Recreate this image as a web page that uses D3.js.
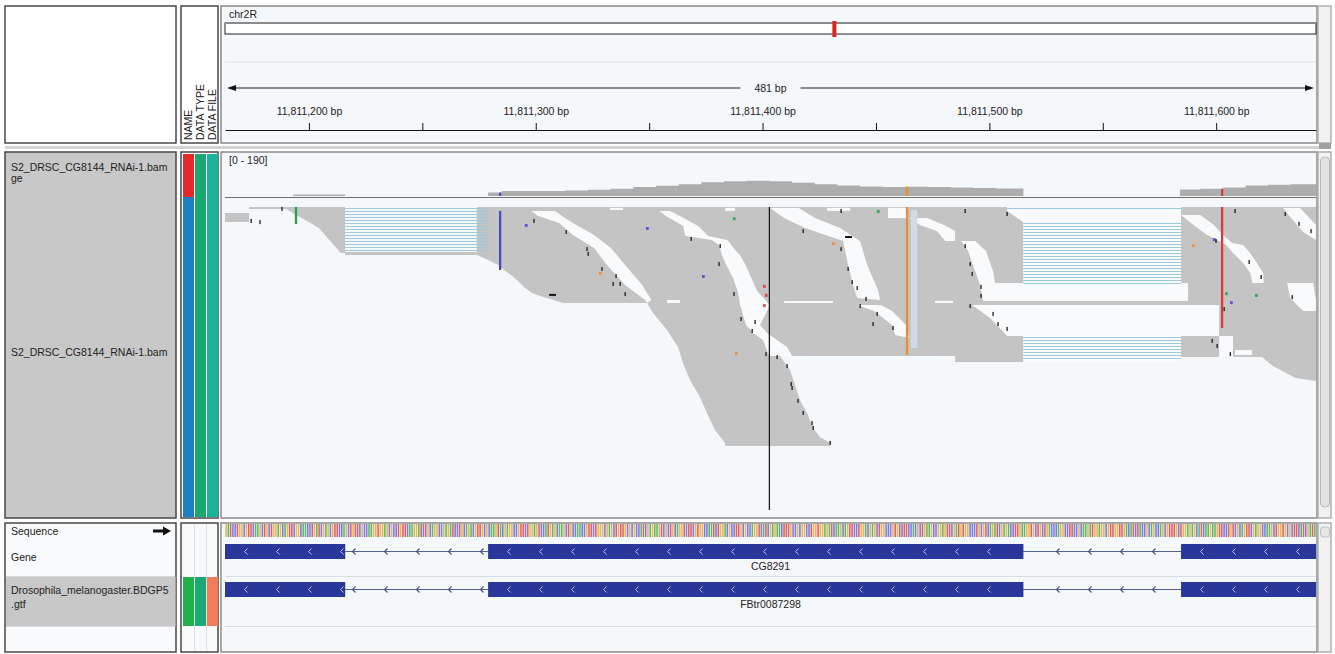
<!DOCTYPE html>
<html>
<head>
<meta charset="utf-8">
<script src="https://cdn.jsdelivr.net/npm/d3@7"></script>
<style>
body { margin: 0; background: #ffffff; }
text { font-family: "Liberation Sans", Arial, sans-serif; fill: #222; }
</style>
</head>
<body>
<script>
// ---- data ----
var chromName = "chr2R";
var chromLength = 21146708;
var regionStart = 11811163;
var regionEnd = 11811644;
var centerBp = 11811403;
var majorTicks = [11811200, 11811300, 11811400, 11811500, 11811600];
var minorTicks = [11811250, 11811350, 11811450, 11811550];

var covRange = [0, 190];
// coverage steps: offset from regionStart (bp) -> depth
var covPos = [0, 30, 53, 116, 122, 140, 150, 160, 170, 180, 190, 200, 210, 220, 230, 240, 250, 260, 270, 280, 290, 300, 310, 320, 330, 340, 352, 421, 430, 440, 450, 460, 470, 481];
var covDepth = [0, 8, 0, 18, 26, 27, 29, 33, 38, 48, 54, 62, 72, 78, 80, 78, 70, 62, 55, 50, 48, 49, 47, 45, 42, 40, 0, 34, 38, 45, 55, 60, 62, 62];

// read pile-up outlines, points are [bp offset, row]
var massOutline = [[111,0],[481,0],[481,58],[472,57],[462,53],[457.2,50],[421.5,50],[421.5,51.7],[321.9,51.7],[321.9,49.7],[244.7,49.7],[249.1,54.3],[251.3,59.3],[253.5,64.3],[256.6,68.7],[259.3,73.7],[262.3,76.7],[266.8,78.7],[266.8,79.7],[220.5,79.7],[220.5,78.7],[216,74.3],[212.5,68.7],[209.4,63.3],[205,57.7],[201.9,52],[199.7,46.7],[194.9,41],[188.7,35.3],[186.1,32],[149,32],[138.9,29.7],[135.4,28.7],[132.3,27],[129.2,24.7],[126.1,22.7],[123,21],[120.4,19.3],[116,17.7],[112,16.3],[111,16]];
var leftReads = [
  [[0,2],[10.6,2],[10.6,5],[0,5]],
  [[10.6,0],[26.9,0],[26.9,0.7],[10.6,0.7]],
  [[26.9,0],[52.9,0],[52.9,15.3],[51,15.3],[41.4,7],[30,2],[26.9,0.7]],
  [[52.9,15],[111,15],[111,16],[52.9,16]]
];
// empty areas inside the pile-up (junction gaps, packing gaps)
var emptyAreas = [
  [[344.8,0],[421.5,0],[421.5,26],[351.9,26],[351.9,5],[347.4,2.7],[344.8,1.3]],
  [[324.5,11.3],[330.7,11.3],[335.5,14.7],[338.6,21.3],[339.5,25.3],[424.6,25.3],[424.6,31.3],[334.2,31.3],[332.9,26],[330.7,21.3],[327.6,14.7]],
  [[329.4,32.7],[438.3,32.7],[438.3,43],[344.8,43],[337.3,37]],
  [[351.9,43],[421.5,43],[421.5,51.7],[351.9,51.7]],
  [[438.3,43],[444.4,43],[444.4,50],[438.3,50]],
  [[134.9,1.3],[138,3],[147.3,5.3],[153.4,9.3],[162.7,13.7],[168.4,19.3],[176.4,26],[185.2,31],[186.1,32],[188,31],[183.9,26],[176.4,19.3],[170.2,13.7],[162.7,9.3],[153.4,5.3],[148.6,3],[145.5,1.3]],
  [[191.4,1.3],[194.4,3],[202,6.3],[203,9.7],[214.7,11],[217.8,12.7],[219.1,16],[221,19.3],[224,23.7],[226,28],[227.1,32.7],[229.7,39.3],[232.8,42],[237.2,44.3],[239.9,49.7],[250,49.7],[247.8,46.7],[239,42],[235.9,39.3],[240.3,32.7],[234.6,28],[229.5,19.3],[227,16],[225.3,14.7],[221.5,11],[213,9.7],[208.6,6.3],[200.6,3],[196.2,1.3]],
  [[240.3,0.3],[246.5,3.7],[255.7,7],[272.5,11.3],[274.7,19.3],[276.9,26],[278.7,30.3],[288.8,31],[287.9,27.7],[283.1,19.3],[280,11.3],[271.2,7],[260.1,3.7],[253,0.3]],
  [[278.7,32.7],[286.2,34.7],[294.1,39.3],[295.4,42.7],[301.6,43.7],[300.3,39.3],[294.1,34.7],[289.2,32.7]],
  [[301.6,3.7],[306.4,6],[313.9,8],[317.5,11.3],[321.9,11.3],[321.9,8],[317,6],[309.5,3.7]],
  [[292.3,0.3],[300.3,0.3],[300.3,3.7],[292.3,3.7]],
  [[421.5,2.7],[427,6],[433,9.3],[440,12],[441.4,12.7],[444.4,15.3],[448.9,18.7],[452,22],[453,25.3],[458,25.3],[457.7,22],[455,18.7],[451.9,15.3],[448.9,12.7],[444,12],[440,9.3],[436,6],[430,2.7]],
  [[466.5,0.3],[474,0.3],[481,6],[481,11],[475.3,8.3],[469.6,3.3]],
  [[468.3,25.3],[479.7,25.3],[481,31],[481,34.7],[475.3,34.7],[469.6,30.3]],
  [[445.3,47.7],[452.8,47.7],[452.8,49.3],[445.3,49.3]],
  [[220.5,0.3],[224.9,0.3],[224.9,1.3],[220.5,1.3]],
  [[265.4,0.3],[275.6,0.3],[275.6,1.3],[265.4,1.3]],
  [[169.8,0.3],[175.5,0.3],[175.5,1],[169.8,1]],
  [[246.5,31.3],[268,31.3],[268,32],[246.5,32]],
  [[313,31.3],[321,31.3],[321,32],[313,32]],
  [[194.9,31],[200.6,31],[200.6,32],[194.9,32]]
];
// spliced reads: [from offset, to offset, first row, last row]
var junctions = [[52.9, 116, 0, 14], [344.8, 421.5, 0, 0], [351.9, 421.5, 5, 25], [351.9, 421.5, 43, 50]];
// mismatch columns: [offset, first row, last row, base]
var mismatchColumns = [[31.3, 0, 5.7, "A"], [121.3, 1.3, 21, "C"], [300.7, 0, 49.3, "G"], [439.6, 0, 40.3, "T"]];
var mismatches = [[224.4,3.7,"A"],[287.9,1.3,"A"],[132.7,6,"C"],[186.1,7,"C"],[210.8,23,"C"],[165.3,22,"G"],[268.1,12,"G"],[225.3,48.7,"G"],[237.7,26.3,"T"],[238.5,29.3,"T"],[237.7,32.7,"T"],[441.4,28.7,"A"],[443.6,31.7,"C"],[454.6,29.3,"A"],[426.8,12.7,"G"],[436,10.7,"C"]];
var deletions = [[142.9, 29.3, 3], [273.4, 10, 3]];
var insertions = [[11.5,4.3],[15.4,4.7],[25.1,0.3],[136.2,4.3],[150.4,8],[159.6,13.7],[160.1,15.3],[166.2,20.3],[172.4,22.7],[171.1,25.3],[176.4,28.7],[205.5,10.3],[218.3,12.7],[217.8,18.7],[224.4,28.7],[227.5,37],[233.7,38],[232.4,41],[238.5,48.7],[174.2,25.3],[247.8,52.7],[250,60],[252.6,64.3],[254.9,68.3],[258.8,71.7],[259.3,73.3],[266.8,78.3],[243.4,49.7],[249.6,58.7],[278.7,26.7],[280,32.7],[287.5,35.3],[285.7,38.7],[294.5,40],[271.6,1],[254.9,7.7],[271.6,13.7],[274.7,20.3],[276.5,24.7],[282.6,30.3],[326.3,1],[344.8,2],[326.3,12.7],[328.5,18.7],[329.4,22],[333.3,26.3],[333.3,29.3],[328.5,32.7],[338.6,35.3],[340.8,38.7],[344.8,40.3],[445.3,1],[467.4,2],[473.5,5.3],[478.8,7.7],[436.9,11],[440.5,33.7],[451.5,18],[456.8,23],[470.5,29.7],[435.2,44.3],[437.4,46],[443.2,48.7]];

var sequence = ("GATCCTGGCGTTCAAGCTGCTGGAGCAGTTCGGCAACCTGATCGAGCGTT" +
  "CCAGCTGTTCGCCAAGGTGGAGCGCCTGTTCAAGGATCTGCAGGCCGAGA" +
  "TCCTGCAGACGTTGCGCAAGTACGAGGCCGTTCTGGAGTCCATGAGCAAG" +
  "CTGCCAACCGTTCTGGGCGAGCTGTTGCGCGCCATCGAGAAGTCGCTGCA" +
  "GGTCTTCGTGGCCAATCTGGACGCCTTGCGCCAGGTCATCGAGAACTTTG" +
  "CCGCGGCCTGGTGGAGATCAAGCAGTTCCTGGACGAGCTGGCCCGTGTCT" +
  "TCCACGCTGAAGCCGGAGTTCGATGTGGCCCTGCGTCAGATCGAGACCTT" +
  "GAAGGTGCTGCTGACCCAGGCCTTCCGCAAGATGGAGGCGTTGGTTGACA" +
  "TCTACCGCAGCCAGCGTTTGCTGGAGAGCATCAAGAAGTTCCTGTCGCAG" +
  "TTCGAGGCCAAGCTGGTGCGCTTCATCGATAAGTC").slice(0, 481);

var geneName = "CG8291";
var transcriptName = "FBtr0087298";
var exonStarts = [11811100, 11811279, 11811584.5];
var exonEnds = [11811216, 11811515, 11811700];

var bamName = "S2_DRSC_CG8144_RNAi-1.bam";
var gtfName = "Drosophila_melanogaster.BDGP5";
var attrHeaders = ["NAME", "DATA TYPE", "DATA FILE"];

// ---- drawing ----
var baseColor = { A: "#22a050", C: "#4848cc", G: "#ee8a36", T: "#e03838" };
var seqColor = { A: "#62b862", C: "#7c7cdc", G: "#e6b65c", T: "#e26060" };
var bg = "#f5f8fb";

var svg = d3.select("body").append("svg")
  .attr("width", 1335).attr("height", 654).style("display", "block");

var x = d3.scaleLinear().domain([regionStart, regionEnd]).range([225, 1316]);
var bpW = x(regionStart + 1) - x(regionStart);
var rowY = d3.scaleLinear().domain([0, 80]).range([207, 447]);
var covY = d3.scaleLinear().domain(covRange).range([196, 160]);
var chromX = d3.scaleLinear().domain([0, chromLength]).range([225, 1316]);
function px(off) { return x(regionStart + off); }

var shapeLine = d3.line().x(function(d) { return px(d[0]); }).y(function(d) { return rowY(d[1]); });
function shapePath(pts) { return shapeLine(pts) + "Z"; }

// panels
var panelBoxes = [
  [5, 6, 171, 137, "#ffffff", "#484848"],
  [181, 6, 37, 137, "#ffffff", "#484848"],
  [221, 6, 1096, 137, bg, "#8a8a8a"],
  [1318, 6, 13, 137, "#f2f2f2", "#b0b0b0"],
  [5, 152, 171, 366, "#c8c8c8", "#484848"],
  [181, 152, 37, 366, "#ffffff", "#484848"],
  [221, 152, 1096, 366, bg, "#8a8a8a"],
  [1318, 152, 13, 366, "#f2f2f2", "#b0b0b0"],
  [5, 523, 171, 129, "#f8fafc", "#484848"],
  [181, 523, 37, 129, "#f8fafc", "#484848"],
  [221, 523, 1096, 129, bg, "#8a8a8a"],
  [1318, 523, 13, 129, "#f2f2f2", "#b0b0b0"]
];
svg.selectAll("rect.panel").data(panelBoxes).enter().append("rect")
  .attr("class", "panel")
  .attr("x", function(d) { return d[0]; }).attr("y", function(d) { return d[1]; })
  .attr("width", function(d) { return d[2]; }).attr("height", function(d) { return d[3]; })
  .attr("fill", function(d) { return d[4]; })
  .attr("stroke", function(d) { return d[5]; }).attr("stroke-width", 1.5);

svg.append("rect").attr("x", 5).attr("y", 146).attr("width", 1326).attr("height", 3).attr("fill", "#d4d4d4");
svg.append("rect").attr("x", 1319).attr("y", 143).attr("width", 12).attr("height", 6).attr("fill", "#a0a0a0");
// scroll thumbs
svg.append("rect").attr("x", 1320.5).attr("y", 157).attr("width", 9).attr("height", 350).attr("rx", 4)
  .attr("fill", "#e2e2e2").attr("stroke", "#b8b8b8");
svg.append("rect").attr("x", 1320.5).attr("y", 527).attr("width", 9).attr("height", 10).attr("rx", 3)
  .attr("fill", "#e6e6e6").attr("stroke", "#c0c0c0");

// attribute headers
svg.selectAll("text.attrh").data(attrHeaders).enter().append("text")
  .attr("class", "attrh")
  .attr("transform", function(d, i) { return "translate(" + (192 + i * 12) + ",140) rotate(-90)"; })
  .style("font-size", "10.5px").text(function(d) { return d; });

// attribute columns
var attrCells = [
  [183, 154, 197, "#e5282c"], [183, 197, 517, "#1d7fc3"], [195, 154, 517, "#1ba870"], [207, 154, 517, "#1bb39b"],
  [183, 577, 626, "#20b04c"], [195, 577, 626, "#1aa874"], [207, 577, 626, "#f07c5a"]
];
svg.selectAll("rect.attr").data(attrCells).enter().append("rect")
  .attr("x", function(d) { return d[0]; }).attr("y", function(d) { return d[1]; })
  .attr("width", 11).attr("height", function(d) { return d[2] - d[1]; })
  .attr("fill", function(d) { return d[3]; });
svg.selectAll("line.attrsep").data([194.5, 206.5]).enter().append("line")
  .attr("x1", function(d) { return d; }).attr("x2", function(d) { return d; })
  .attr("y1", 524).attr("y2", 651).attr("stroke", "#dfe3e6");

// header: chromosome + ruler
svg.append("text").attr("x", 229).attr("y", 18).style("font-size", "10.5px").text(chromName);
svg.append("rect").attr("x", chromX(0)).attr("y", 23).attr("width", chromX(chromLength) - chromX(0)).attr("height", 11)
  .attr("fill", "#ffffff").attr("stroke", "#222").attr("stroke-width", 1);
svg.append("line").attr("x1", 225).attr("x2", 1316).attr("y1", 23).attr("y2", 23).attr("stroke", "#8a8a8a").attr("stroke-width", 2);
svg.append("rect").attr("x", chromX((regionStart + regionEnd) / 2) - 2).attr("y", 21).attr("width", 4).attr("height", 16)
  .attr("fill", "#e02424");
svg.append("line").attr("x1", 225).attr("x2", 1316).attr("y1", 62).attr("y2", 62).attr("stroke", "#dbe1e8");

var spanLabel = d3.format(",")(regionEnd - regionStart) + " bp";
var midX = (x(regionStart) + x(regionEnd)) / 2;
svg.append("line").attr("x1", 232).attr("x2", midX - 30).attr("y1", 88).attr("y2", 88).attr("stroke", "#222");
svg.append("line").attr("x1", midX + 30).attr("x2", 1308).attr("y1", 88).attr("y2", 88).attr("stroke", "#222");
svg.append("path").attr("d", "M227,88 L236,85 L236,91 Z").attr("fill", "#111");
svg.append("path").attr("d", "M1314,88 L1305,85 L1305,91 Z").attr("fill", "#111");
svg.append("text").attr("x", midX).attr("y", 92).attr("text-anchor", "middle").style("font-size", "10.5px").text(spanLabel);

var tickAxis = d3.axisTop(x).tickValues(majorTicks.concat(minorTicks)).tickSize(7).tickSizeOuter(0).tickFormat("");
var gt = svg.append("g").attr("transform", "translate(0,130)").call(tickAxis);
gt.select(".domain").attr("stroke", "#111");
gt.selectAll(".tick line").attr("stroke", "#111");
var labelAxis = d3.axisTop(x).tickValues(majorTicks).tickSize(0).tickPadding(15)
  .tickFormat(function(d) { return d3.format(",")(d) + " bp"; });
var gl = svg.append("g").attr("transform", "translate(0,130)").call(labelAxis);
gl.select(".domain").remove();
gl.selectAll("text").style("font-size", "10.5px").style("font-family", "Liberation Sans, Arial, sans-serif").attr("fill", "#222");

// track names
svg.append("text").attr("x", 11).attr("y", 171).style("font-size", "10.5px").text(bamName);
svg.append("text").attr("x", 11).attr("y", 182).style("font-size", "10.5px").text("ge");
svg.append("text").attr("x", 11).attr("y", 356).style("font-size", "10.5px").text(bamName);

// clip for data area
svg.append("clipPath").attr("id", "dataClip").append("rect")
  .attr("x", 225).attr("y", 153).attr("width", 1091).attr("height", 500);
var data = svg.append("g").attr("clip-path", "url(#dataClip)");

// coverage
svg.append("text").attr("x", 229).attr("y", 164).style("font-size", "10.5px").text("[" + covRange[0] + " - " + covRange[1] + "]");
var covData = covPos.map(function(p, i) { return [p, covDepth[i]]; });
var covArea = d3.area().curve(d3.curveStepAfter)
  .x(function(d) { return px(d[0]); }).y0(covY(0)).y1(function(d) { return covY(d[1]); });
data.append("path").datum(covData).attr("d", covArea).attr("fill", "#adadad");
function depthAt(off) {
  var i = d3.bisectRight(covPos, off) - 1;
  return covDepth[Math.max(0, i)];
}
data.selectAll("rect.covmm").data(mismatchColumns.slice(1)).enter().append("rect")
  .attr("x", function(d) { return px(d[0]) - bpW / 2; }).attr("width", bpW)
  .attr("y", function(d) { return covY(depthAt(d[0])); })
  .attr("height", function(d) { return covY(0) - covY(depthAt(d[0])); })
  .attr("fill", function(d) { return baseColor[d[3]]; });
data.append("line").attr("x1", 225).attr("x2", 1316).attr("y1", 197.5).attr("y2", 197.5).attr("stroke", "#6e6e6e");

// alignments
data.append("path").attr("d", shapePath(massOutline)).attr("fill", "#c4c4c4");
data.selectAll("path.left").data(leftReads).enter().append("path")
  .attr("d", shapePath).attr("fill", "#c4c4c4");
data.selectAll("path.gap").data(emptyAreas).enter().append("path")
  .attr("d", shapePath).attr("fill", "#f8fafc");

junctions.forEach(function(j) {
  data.selectAll(null).data(d3.range(j[2], j[3] + 1)).enter().append("line")
    .attr("x1", px(j[0])).attr("x2", px(j[1]))
    .attr("y1", function(r) { return rowY(r + 0.5); }).attr("y2", function(r) { return rowY(r + 0.5); })
    .attr("stroke", "#9ec8de").attr("stroke-width", 1);
});

// pale strip beside the orange column
data.append("rect").attr("x", px(302.4)).attr("y", rowY(1)).attr("width", px(305.2) - px(302.4))
  .attr("height", rowY(47) - rowY(1)).attr("fill", "#d0dbe5");

data.selectAll("rect.mmcol").data(mismatchColumns).enter().append("rect")
  .attr("x", function(d) { return px(d[0]) - bpW / 2; }).attr("width", bpW)
  .attr("y", function(d) { return rowY(d[1]); })
  .attr("height", function(d) { return rowY(d[2]) - rowY(d[1]); })
  .attr("fill", function(d) { return baseColor[d[3]]; });

data.selectAll("rect.mm").data(mismatches).enter().append("rect")
  .attr("x", function(d) { return px(d[0]) - bpW / 2; }).attr("width", bpW + 0.5)
  .attr("y", function(d) { return rowY(d[1]) - 1; }).attr("height", 3)
  .attr("fill", function(d) { return baseColor[d[2]]; }).attr("opacity", 0.85);

data.selectAll("rect.del").data(deletions).enter().append("rect")
  .attr("x", function(d) { return px(d[0]); }).attr("width", function(d) { return d[2] * bpW; })
  .attr("y", function(d) { return rowY(d[1]) - 1; }).attr("height", 2).attr("fill", "#111");

data.selectAll("rect.ins").data(insertions).enter().append("rect")
  .attr("x", function(d) { return px(d[0]) - 0.6; }).attr("width", 1.3)
  .attr("y", function(d) { return rowY(d[1]) - 1; }).attr("height", 4).attr("fill", "#1a1a1a");

data.append("line").attr("x1", x(centerBp)).attr("x2", x(centerBp))
  .attr("y1", rowY(0)).attr("y2", 510).attr("stroke", "#111").attr("stroke-width", 1.2);

// bottom panel: sequence + gene tracks
svg.append("text").attr("x", 11).attr("y", 535).style("font-size", "10.5px").text("Sequence");
svg.append("path").attr("d", "M153,529.5 L163,529.5 L163,526.5 L171,531 L163,535.5 L163,532.5 L153,532.5 Z").attr("fill", "#111");
svg.append("text").attr("x", 11).attr("y", 561).style("font-size", "10.5px").text("Gene");
svg.append("rect").attr("x", 6).attr("y", 577).attr("width", 169.5).attr("height", 49).attr("fill", "#c8c8c8");
svg.append("text").attr("x", 11).attr("y", 594).style("font-size", "10.5px").text(gtfName);
svg.append("text").attr("x", 11).attr("y", 608).style("font-size", "10.5px").text(".gtf");
svg.selectAll("line.namesep").data([576.5, 626.5]).enter().append("line")
  .attr("x1", 6).attr("x2", 175).attr("y1", function(d) { return d; }).attr("y2", function(d) { return d; })
  .attr("stroke", "#d6dadf");

data.selectAll("rect.base").data(sequence.split("")).enter().append("rect")
  .attr("x", function(d, i) { return x(regionStart + i) + 0.3; })
  .attr("width", bpW - 0.7).attr("y", 524).attr("height", 13)
  .attr("fill", function(d) { return seqColor[d]; });

data.selectAll("line.tracksep").data([576.5, 626.5]).enter().append("line")
  .attr("x1", 225).attr("x2", 1316).attr("y1", function(d) { return d; }).attr("y2", function(d) { return d; })
  .attr("stroke", "#d6dce3");

function drawGene(top, label) {
  var mid = top + 7.5;
  data.append("line").attr("x1", x(exonEnds[0])).attr("x2", x(exonStarts[exonStarts.length - 1]))
    .attr("y1", mid).attr("y2", mid).attr("stroke", "#56628f").attr("stroke-width", 1.2);
  for (var i = 0; i < exonStarts.length - 1; i++) {
    var a = x(exonEnds[i]), b = x(exonStarts[i + 1]);
    data.selectAll(null).data(d3.range(Math.ceil((a + 5) / 32) * 32 + 1, b - 3, 32)).enter().append("path")
      .attr("d", function(c) { return "M" + (c + 2.5) + "," + (mid - 3) + " L" + (c - 0.5) + "," + mid + " L" + (c + 2.5) + "," + (mid + 3); })
      .attr("fill", "none").attr("stroke", "#4a5585").attr("stroke-width", 1.2);
  }
  data.selectAll(null).data(exonStarts.map(function(s, i) { return [s, exonEnds[i]]; })).enter().append("rect")
    .attr("x", function(d) { return x(d[0]); }).attr("width", function(d) { return x(d[1]) - x(d[0]); })
    .attr("y", top).attr("height", 15).attr("fill", "#29369a");
  exonStarts.forEach(function(s, i) {
    var a = Math.max(225, x(s)), b = Math.min(1316, x(exonEnds[i]));
    data.selectAll(null).data(d3.range(a + 20, b - 4, 32)).enter().append("path")
      .attr("d", function(c) { return "M" + (c + 2.5) + "," + (mid - 3) + " L" + (c - 0.5) + "," + mid + " L" + (c + 2.5) + "," + (mid + 3); })
      .attr("fill", "none").attr("stroke", "#b9c3ee").attr("stroke-width", 1);
  });
  data.append("text").attr("x", midX).attr("y", top + 26).attr("text-anchor", "middle")
    .style("font-size", "10.5px").text(label);
}
drawGene(544, geneName);
drawGene(582, transcriptName);
</script>
</body>
</html>
